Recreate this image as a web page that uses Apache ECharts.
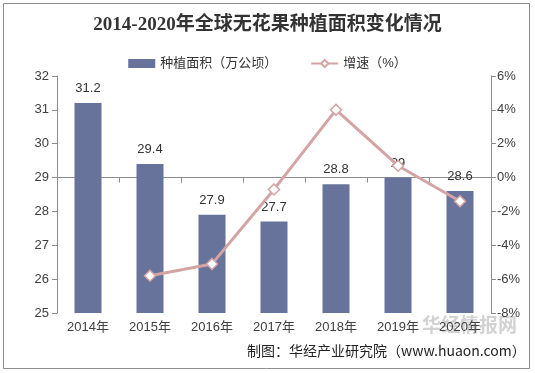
<!DOCTYPE html>
<html><head><meta charset="utf-8">
<script src="https://cdn.jsdelivr.net/npm/echarts@6/dist/echarts.min.js"></script>
<style>html,body{margin:0;padding:0;background:#fff}#c{width:535px;height:373px}</style>
</head><body><div id="c"></div>
<script>
const categories = ['2014年','2015年','2016年','2017年','2018年','2019年','2020年'];
const areaValues = [31.2, 29.4, 27.9, 27.7, 28.8, 29, 28.6];
const growthValues = [null, -5.8, -5.1, -0.7, 4.0, 0.7, -1.4];
const chart = echarts.init(document.getElementById('c'));
const font = 'Arial, "Liberation Sans", "Noto Sans CJK SC", sans-serif';
chart.setOption({
  backgroundColor: '#fff',
  animation: false,
  title: {
    text: '2014-2020年全球无花果种植面积变化情况',
    left: 'center', top: 11,
    textStyle: {fontFamily: '"Liberation Serif", "Noto Sans CJK SC", serif', fontWeight: 'bold', fontSize: 19, color: '#333'}
  },
  legend: {
    top: 52, left: 'center', itemGap: 33, itemWidth: 27, itemHeight: 9,
    textStyle: {fontFamily: font, fontSize: 13, color: '#333'},
    data: [{name: '种植面积（万公顷）', icon: 'rect'}, {name: '增速（%）'}]
  },
  grid: {left: 57, right: 44, top: 76, bottom: 60, containLabel: false},
  xAxis: {
    type: 'category', data: categories,
    axisLine: {lineStyle: {color: '#8c8c8c'}},
    axisTick: {show: true, lineStyle: {color: '#8c8c8c'}, length: 5},
    axisLabel: {fontFamily: font, fontSize: 13, color: '#404040', margin: 8}
  },
  yAxis: [
    {type: 'value', min: 25, max: 32, interval: 1,
     axisLine: {show: true, lineStyle: {color: '#8c8c8c'}},
     axisTick: {show: true, lineStyle: {color: '#8c8c8c'}, length: 5},
     splitLine: {show: false},
     axisLabel: {fontFamily: font, fontSize: 13, color: '#404040', margin: 8}},
    {type: 'value', min: -8, max: 6, interval: 2,
     axisLine: {show: true, lineStyle: {color: '#8c8c8c'}},
     axisTick: {show: true, lineStyle: {color: '#8c8c8c'}, length: 5},
     splitLine: {show: false},
     axisLabel: {fontFamily: font, fontSize: 13, color: '#404040', margin: 6, formatter: '{value}%'}}
  ],
  series: [
    {name: '种植面积（万公顷）', type: 'bar', data: areaValues, barWidth: 27,
     itemStyle: {color: '#67739A'},
     label: {show: true, position: 'top', distance: 8, fontFamily: font, fontSize: 13, color: '#333'}},
    {name: '增速（%）', type: 'line', yAxisIndex: 1, data: growthValues,
     lineStyle: {color: '#D4A4A4', width: 3},
     itemStyle: {color: '#fff', borderColor: '#D4A4A4', borderWidth: 1.5},
     symbol: 'diamond', symbolSize: 11, z: 5}
  ],
  graphic: [
    {type: 'rect', shape: {x: 3.5, y: 3.5, width: 526, height: 365}, style: {fill: null, stroke: '#8c8c8c', lineWidth: 1}, silent: true},
    {type: 'text', left: 247, top: 344, style: {text: '制图：华经产业研究院（www.huaon.com）', font: '14px "Noto Sans CJK SC", sans-serif', fill: '#222'}},
    {type: 'text', left: 422, top: 315, style: {text: '华经情报网', font: 'bold 19px "Noto Sans CJK SC", sans-serif', fill: 'rgba(180,180,180,0.6)'}}
  ]
});
</script></body></html>
